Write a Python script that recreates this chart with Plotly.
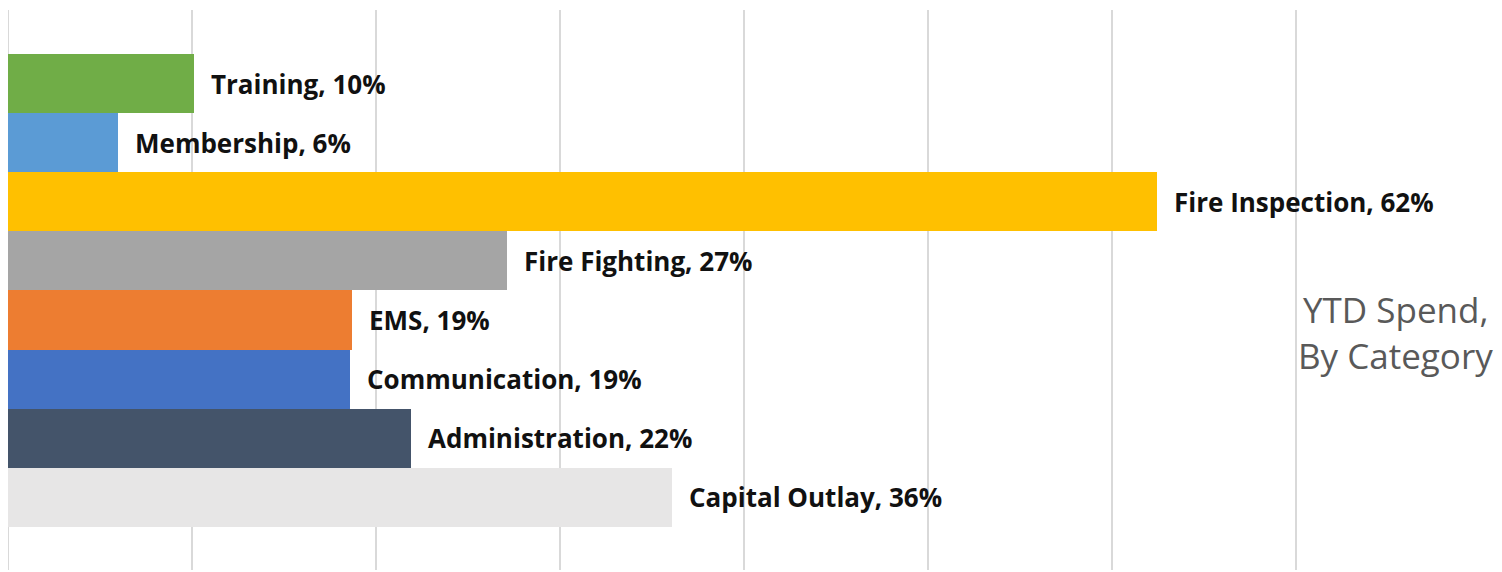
import plotly.graph_objects as go

categories = ["Capital Outlay", "Administration", "Communication", "EMS",
              "Fire Fighting", "Fire Inspection", "Membership", "Training"]
values = [36.1, 21.9, 18.6, 18.7, 27.1, 62.4, 6.0, 10.1]
colors = ["#E7E6E6", "#44546A", "#4472C4", "#ED7D31",
          "#A5A5A5", "#FFC000", "#5B9BD5", "#70AD47"]
title_lines = ["YTD Spend,", "By Category"]
x_ticks = [0, 10, 20, 30, 40, 50, 60, 70]

fig = go.Figure()
fig.add_trace(go.Bar(
    x=values, y=categories, orientation="h",
    marker=dict(color=colors, line=dict(width=0)),
    hoverinfo="skip",
))

for c, v in zip(categories, values):
    fig.add_annotation(
        x=v, y=c, xref="x", yref="y",
        text=f"<b>{c}, {round(v):d}%</b>",
        showarrow=False, xanchor="left", yanchor="middle", xshift=15,
        font=dict(family="Open Sans", size=26, color="#111111"),
    )

fig.add_annotation(x=1.0725, y=0.466, xref="paper", yref="paper",
                   text=title_lines[0], showarrow=False, xanchor="center", yanchor="middle",
                   font=dict(family="Open Sans", size=35, color="#595959"))
fig.add_annotation(x=1.0725, y=0.383, xref="paper", yref="paper",
                   text=title_lines[1], showarrow=False, xanchor="center", yanchor="middle",
                   font=dict(family="Open Sans", size=35, color="#595959"))

fig.update_layout(
    width=1494, height=562,
    margin=dict(l=0, r=200, t=2, b=0),
    paper_bgcolor="white", plot_bgcolor="white",
    bargap=0, showlegend=False,
    xaxis=dict(range=[0, 70.3], tickvals=x_ticks, showticklabels=False,
               showgrid=True, gridcolor="#D9D9D9", gridwidth=1.5,
               zeroline=True, zerolinecolor="#D9D9D9", zerolinewidth=1.5,
               showline=False, fixedrange=True),
    yaxis=dict(type="category", categoryorder="array", categoryarray=categories,
               range=[-1.23, 8.245], showticklabels=False, showgrid=False,
               zeroline=False, showline=False, fixedrange=True),
)

fig.write_html("out.html")
